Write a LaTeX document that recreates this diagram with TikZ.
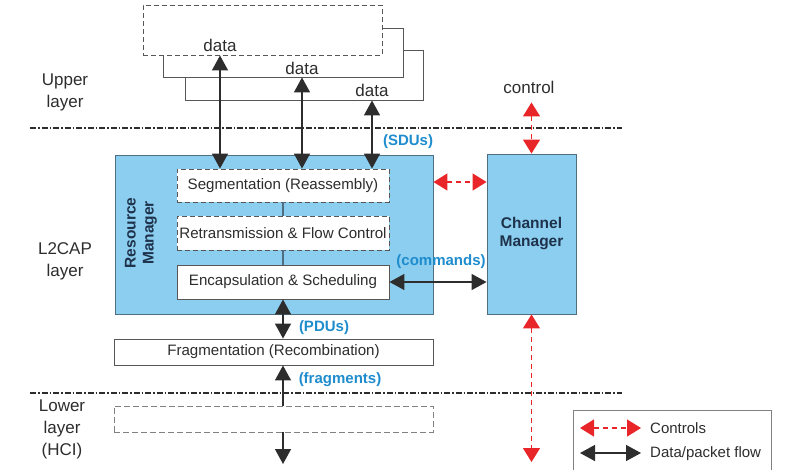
\documentclass[tikz,border=0pt]{standalone}
\usepackage{fontspec}
\setmainfont{Liberation Sans}
\usetikzlibrary{arrows.meta}
\definecolor{lblue}{RGB}{140,206,240}
\definecolor{bord}{RGB}{80,110,130}
\definecolor{tblue}{RGB}{30,140,205}
\definecolor{cred}{RGB}{232,38,42}
\definecolor{ink}{RGB}{45,45,45}
\definecolor{navy}{RGB}{30,50,75}
\tikzset{
  databox/.style={draw=ink!80, fill=white, line width=0.9pt, inner sep=0pt},
  dashbox/.style={databox, dashed, dash pattern=on 5pt off 3pt},
  bluebox/.style={draw=bord, fill=lblue, line width=0.9pt, inner sep=0pt},
  fnbox/.style={draw=ink!80, fill=white, line width=0.9pt, inner sep=0pt, font=\fontsize{15.1}{17}\selectfont, text=ink},
  lbl/.style={font=\fontsize{17}{22}\selectfont, text=ink, align=center, inner sep=0pt},
  bl/.style={font=\fontsize{15}{17}\selectfont\bfseries, text=tblue, inner sep=0pt},
  dflow/.style={{Triangle[length=15pt,width=16pt]}-{Triangle[length=15pt,width=16pt]}, line width=1.4pt, draw=ink},
  dup/.style={-{Triangle[length=15pt,width=16pt]}, line width=1.4pt, draw=ink},
  cflow/.style={{Triangle[length=14pt,width=17pt]}-{Triangle[length=14pt,width=17pt]}, line width=1.4pt, draw=cred, dash pattern=on 5pt off 4pt},
  divider/.style={line width=1.1pt, draw=ink, dash pattern=on 6pt off 2pt on 1.5pt off 2pt},
}
\begin{document}
\begin{tikzpicture}[x=1pt,y=-1pt]
\useasboundingbox (0,0) rectangle (791,469);
% upper layer data boxes (back to front)
\node[databox, minimum width=238pt, minimum height=50pt] (b3) at (304,75) {};
\node[databox, minimum width=240pt, minimum height=49pt] (b2) at (283,52.5) {};
\node[dashbox, minimum width=239pt, minimum height=50pt] (b1) at (262.5,30) {};
\node[lbl] (d1) at (220,45) {data};
\node[lbl] (d2) at (302,68) {data};
\node[lbl] (d3) at (372,90) {data};
% dividers
\coordinate (l1a) at (30,128); \coordinate (l1b) at (622,128);
\coordinate (l2a) at (30,393); \coordinate (l2b) at (622,393);
\draw[divider] (l1a) -- (l1b);
\draw[divider] (l2a) -- (l2b);
% layer labels
\node[lbl] (up) at (65,92) {Upper\\layer};
\node[lbl] (l2) at (65,261) {L2CAP\\layer};
\node[lbl, anchor=north] (lo) at (62,400) {Lower\\layer\\(HCI)};
% resource manager
\node[bluebox, minimum width=318pt, minimum height=159pt] (rm) at (274,234.5) {};
\node[font=\fontsize{15.5}{18}\selectfont\bfseries, text=navy, rotate=90, align=center, inner sep=0pt] (rmt) at (141,233) {Resource\\Manager};
\node[fnbox, dashed, dash pattern=on 5pt off 3pt, minimum width=212pt, minimum height=33pt] (seg) at (283,185.5) {Segmentation (Reassembly)};
\node[fnbox, dashed, dash pattern=on 5pt off 3pt, minimum width=212pt, minimum height=34pt] (ret) at (283,233) {Retransmission \& Flow Control};
\node[fnbox, minimum width=212pt, minimum height=34pt] (enc) at (283,282) {Encapsulation \& Scheduling};
\draw[bord, line width=1.2pt] (seg.south) -- (ret.north);
\draw[bord, line width=1.2pt] (ret.south) -- (enc.north);
% channel manager
\node[bluebox, minimum width=89pt, minimum height=160pt, font=\fontsize{15.5}{18}\selectfont\bfseries, text=navy, align=center] (cm) at (531.5,234) {Channel\\Manager};
% fragmentation and lower box
\node[fnbox, minimum width=319pt, minimum height=26pt] (frag) at (273.5,352) {Fragmentation (Recombination)};
\node[databox, draw=ink!60, dashed, dash pattern=on 6pt off 3pt, minimum width=319pt, minimum height=26pt] (low) at (273.5,419) {};
% data arrows
\draw[dflow] (b1.south -| d1) -- (seg.north -| d1);
\draw[dflow] (b2.south -| d2) -- (seg.north -| d2);
\draw[dflow] (b3.south -| d3) -- (seg.north -| d3);
\draw[dflow] (enc.east) -- (cm.west |- enc.east);
\draw[dflow] (enc.south) -- (frag.north -| enc);
\draw[dup] (low.north -| enc) -- (frag.south -| enc);
\coordinate (bot) at (283,464);
\draw[dup] (low.south -| enc) -- (bot);
% control arrows
\node[lbl] (ctl) at (529,87) {control};
\coordinate (rc) at (460,182);
\draw[cflow] (rm.east |- rc) -- (cm.west |- rc);
\draw[cflow] (ctl.south -| cm) ++(0,9) -- (cm.north);
\coordinate (cmb) at (531.5,462);
\draw[cflow] (cm.south) -- (cmb);
% blue labels
\node[bl] (sdu) at (408,142) {(SDUs)};
\node[bl] (cmd) at (441,262) {(commands)};
\node[bl] (pdu) at (324,328) {(PDUs)};
\node[bl] (frg) at (340,380) {(fragments)};
% legend
\draw[draw=ink!60, line width=0.9pt] (573,480) |- (771,410) -- (771,480);
\coordinate (la1) at (580,428); \coordinate (la2) at (641,428);
\coordinate (lb1) at (580,453); \coordinate (lb2) at (641,453);
\draw[cflow] (la1) -- (la2);
\draw[dflow] (lb1) -- (lb2);
\node[font=\fontsize{15}{17}\selectfont, text=ink, anchor=west, inner sep=0pt] (lt1) at (650,428) {Controls};
\node[font=\fontsize{15}{17}\selectfont, text=ink, anchor=west, inner sep=0pt] (lt2) at (650,454) {Data/packet flow};
\end{tikzpicture}
\end{document}
